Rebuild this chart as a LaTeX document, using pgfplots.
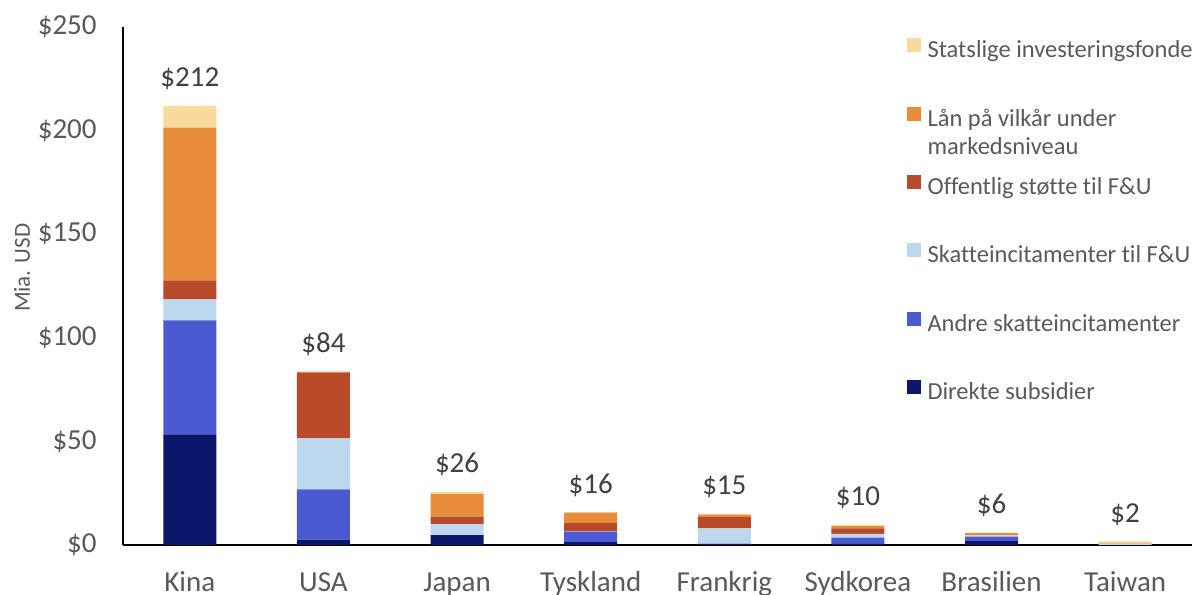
\documentclass[border=0pt]{standalone}
\usepackage{pgfplots}
\pgfplotsset{compat=1.18}
\usepackage{fontspec}
\setmainfont{Carlito}[Ligatures={NoCommon}]
\definecolor{cDir}{HTML}{0B176B}
\definecolor{cAnd}{HTML}{4C5AD2}
\definecolor{cSkat}{HTML}{BDD7EE}
\definecolor{cOff}{HTML}{B94A29}
\definecolor{cLan}{HTML}{E88B3A}
\definecolor{cStat}{HTML}{F9DA9E}
\definecolor{tick}{HTML}{595959}
\definecolor{lab}{HTML}{404040}
\pgfplotsset{common/.style={
  scale only axis,
  width=534.5bp, height=259bp,
  xmin=-0.5, xmax=7.5,
  ymin=0, ymax=250,
}}
\begin{document}
\begin{tikzpicture}
\useasboundingbox (-61.5bp,-25bp) rectangle (535.5bp,272.5bp);
\begin{axis}[
  common,
  ybar stacked,
  bar width=26.5bp,
  axis x line*=bottom, axis y line*=left,
  axis line style={black, line width=0.8bp},
  xtick={0,...,7},
  xticklabels={Kina,USA,Japan,Tyskland,Frankrig,Sydkorea,Brasilien,Taiwan},
  ytick={0,50,100,150,200,250},
  yticklabel={\$\pgfmathprintnumber{\tick}},
  /pgf/number format/assume math mode=true,
  major tick length=0pt,
  ticklabel style={font=\fontsize{14.5bp}{16bp}\selectfont, text=tick},
  xticklabel style={anchor=base, yshift=-23bp, inner sep=0pt},
  yticklabel style={anchor=east, xshift=-13bp, inner sep=0pt},
  ylabel={Mia. USD},
  ylabel style={at={(rel axis cs:0,0.535)}, anchor=center, yshift=50.5bp, font=\fontsize{11.5bp}{14bp}\selectfont, text=tick},
  reverse legend,
  legend cell align=left,
  legend image code/.code={\fill[#1,draw=none] (0bp,0bp) rectangle (7bp,7bp);},
  legend style={at={(rel axis cs:0.7326,1)}, anchor=north west, yshift=-5.5bp,
    draw=none, fill=none, inner sep=0pt, row sep=21.9bp, column sep=3.5bp,
    font=\fontsize{12.25bp}{14bp}\selectfont, text=tick,
    nodes={inner sep=0pt, text height=8bp, text depth=2.5bp}},
]
\addplot[fill=cDir, draw=none] coordinates {(0,53.4) (1,2.6) (2,4.8) (3,1.4) (4,0.3) (5,0.6) (6,1.9) (7,0)};
\addlegendentry{Direkte subsidier}
\addplot[fill=cAnd, draw=none] coordinates {(0,55.0) (1,24.3) (2,0) (3,5.0) (4,0.4) (5,2.9) (6,2.1) (7,0)};
\addlegendentry{Andre skatteincitamenter}
\addplot[fill=cSkat, draw=none] coordinates {(0,10.2) (1,24.6) (2,5.3) (3,0.2) (4,7.3) (5,1.9) (6,0.6) (7,0.7)};
\addlegendentry{Skatteincitamenter til F\&U}
\addplot[fill=cOff, draw=none] coordinates {(0,9.1) (1,31.7) (2,3.6) (3,3.9) (4,5.4) (5,2.6) (6,0) (7,0)};
\addlegendentry{Offentlig støtte til F\&U}
\addplot[fill=cLan, draw=none] coordinates {(0,73.7) (1,0.5) (2,10.8) (3,5.1) (4,1.3) (5,1.1) (6,1.3) (7,0.3)};
\addlegendentry{\parbox[t]{5cm}{Lån på vilkår under\\markedsniveau}}
\addplot[fill=cStat, draw=none] coordinates {(0,10.5) (1,0) (2,1.1) (3,0.3) (4,0.3) (5,0.6) (6,0) (7,0.8)};
\addlegendentry{Statslige investeringsfonde}
\end{axis}
\begin{axis}[
  common,
  hide axis,
  clip=false,
]
\addplot[only marks, mark=none, draw=none,
  point meta=explicit symbolic,
  nodes near coords={\pgfplotspointmeta},
  nodes near coords style={anchor=base, yshift=9.5bp, font=\fontsize{14.5bp}{16bp}\selectfont, text=lab}]
  coordinates {(0,211.9) [\$212] (1,83.7) [\$84] (2,25.6) [\$26] (3,15.9) [\$16] (4,15.0) [\$15] (5,9.7) [\$10] (6,5.9) [\$6] (7,1.8) [\$2]};
\end{axis}
\end{tikzpicture}
\end{document}
